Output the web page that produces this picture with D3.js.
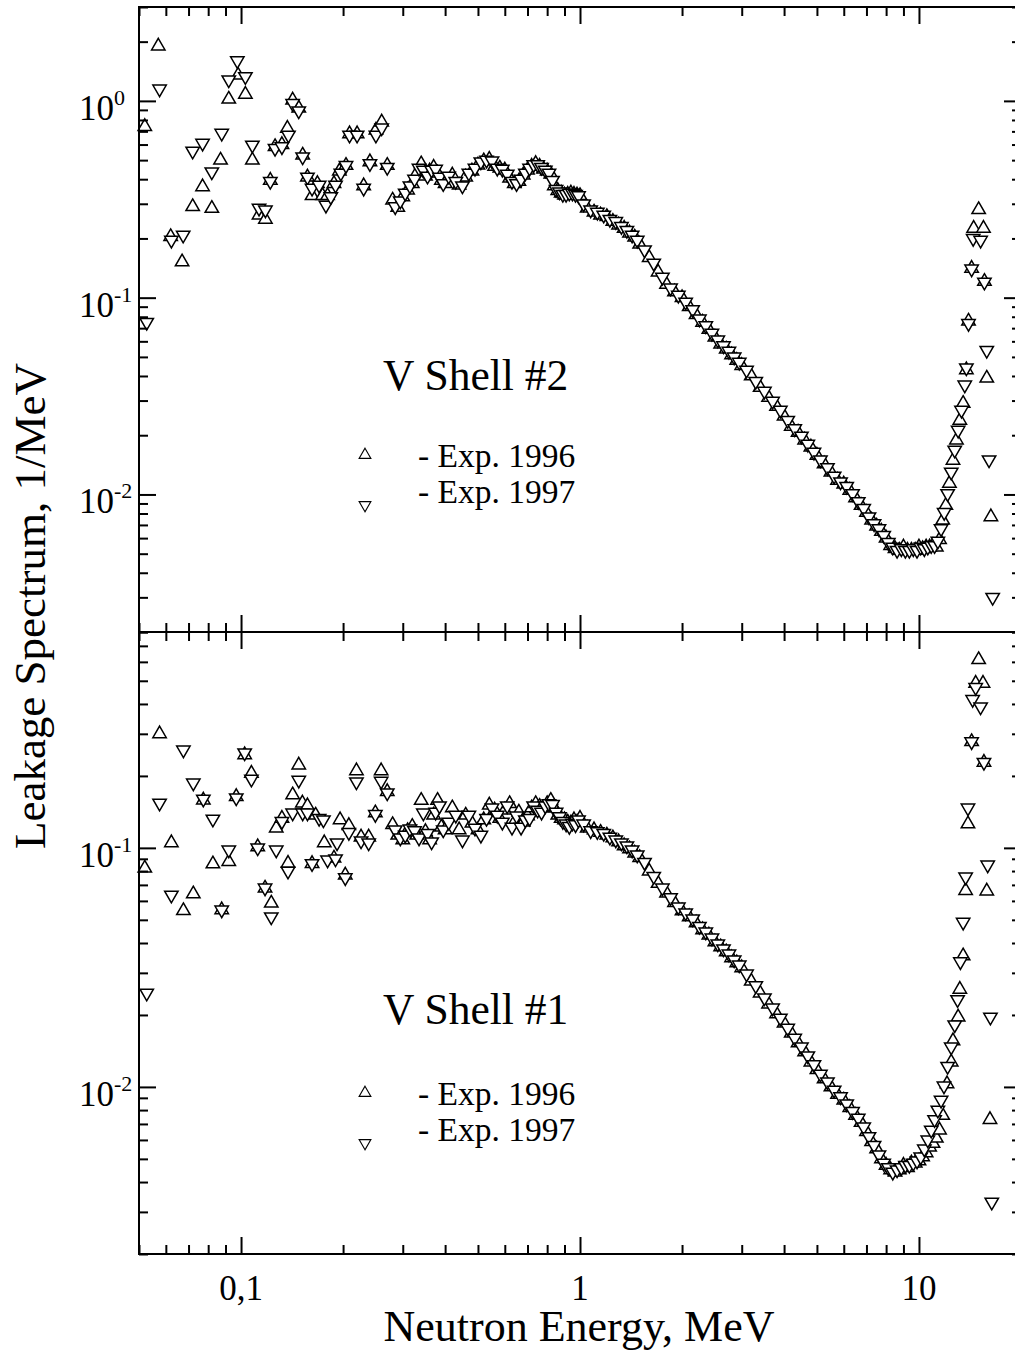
<!DOCTYPE html>
<html>
<head>
<meta charset="utf-8">
<title>V shell leakage spectra</title>
<style type="text/css">
    body { margin: 0; background: #fff; }
    svg text { font-family: "Liberation Serif", "Times New Roman", serif; fill: #000; }
    .frame { fill: none; stroke: #000; stroke-width: 2; }
    .tick line { stroke: #000; stroke-width: 2; }
    .mark { fill: #fff; stroke: #000; stroke-width: 1.5; }
    .legmark { fill: #fff; stroke: #000; stroke-width: 1.1; }
</style>
</head>
<body>
<script src="https://d3js.org/d3.v7.min.js" type="text/javascript"></script>
<script type="text/javascript">

// [energy MeV, leakage 1/MeV]
var shell2_1996 = [
    [0.052,0.74],[0.057,1.9],[0.062,0.204],[0.067,0.152],[0.072,0.29],[0.077,0.366],[0.082,0.284],[0.087,0.50],
    [0.092,1.02],[0.098,1.35],[0.103,1.08],[0.108,0.50],[0.113,0.263],[0.118,0.25],[0.122,0.395],[0.126,0.585],
    [0.132,0.60],[0.137,0.725],[0.142,1.01],[0.148,0.92],[0.152,0.53],[0.157,0.41],[0.162,0.33],[0.168,0.38],
    [0.174,0.33],[0.180,0.33],[0.188,0.38],[0.195,0.44],[0.204,0.47],[0.209,0.68],[0.220,0.68],[0.230,0.37],
    [0.240,0.49],[0.250,0.71],[0.260,0.78],[0.270,0.47],
    [0.28,0.313],[0.29,0.288],[0.30,0.325],[0.31,0.352],[0.32,0.38],[0.33,0.43],[0.34,0.478],[0.35,0.415],
    [0.36,0.44],[0.37,0.46],[0.38,0.43],[0.39,0.395],[0.40,0.38],[0.42,0.42],[0.44,0.373],[0.46,0.41],
    [0.48,0.44],[0.50,0.472],[0.52,0.495],[0.54,0.505],[0.56,0.465],[0.58,0.455],[0.60,0.445],[0.62,0.405],
    [0.64,0.38],[0.66,0.39],[0.68,0.42],[0.70,0.445],[0.72,0.465],[0.74,0.48],[0.76,0.465],[0.78,0.45],
    [0.80,0.44],[0.82,0.425],[0.84,0.37],[0.86,0.35],[0.88,0.34],[0.90,0.332],[0.92,0.335],[0.94,0.34],
    [0.96,0.335],[0.98,0.332],[1.00,0.33],[1.05,0.285],[1.10,0.272],[1.15,0.263],[1.20,0.258],[1.25,0.244],
    [1.30,0.234],[1.35,0.225],[1.40,0.213],[1.45,0.203],[1.50,0.187],[1.6,0.16],[1.7,0.135],[1.8,0.117],
    [1.9,0.107],[2.0,0.1],[2.1,0.09],[2.2,0.082],[2.3,0.075],[2.4,0.069],[2.5,0.063],[2.6,0.058],
    [2.7,0.0547],[2.8,0.0512],[2.9,0.048],[3.0,0.0452],[3.2,0.04],[3.4,0.035],[3.6,0.0311],[3.8,0.028],
    [4.0,0.025],[4.2,0.0222],[4.4,0.0207],[4.6,0.0189],[4.8,0.0174],[5.0,0.0158],[5.25,0.0143],[5.5,0.013],
    [5.75,0.0118],[6.0,0.0113],[6.25,0.0105],[6.5,0.0096],[6.75,0.0088],[7.0,0.0081],[7.25,0.0074],[7.5,0.0069],
    [7.75,0.0065],[8.0,0.006],[8.25,0.0055],[8.5,0.0053],[8.75,0.0052],[9.0,0.0054],[9.25,0.0052],[9.5,0.0052],
    [9.75,0.0052],[10.0,0.0054],[10.25,0.0053],[10.5,0.0054],[10.75,0.0054],[11.0,0.0055],[11.25,0.0054],[11.5,0.0059],
    [11.75,0.0074],[12.0,0.0088],[12.3,0.0114],[12.6,0.0149],[12.9,0.0189],[13.2,0.0238],[13.5,0.029],[13.8,0.043],
    [14.0,0.076],[14.3,0.141],[14.5,0.225],[15.0,0.28],[15.5,0.225],[15.6,0.121],[15.85,0.039],[16.3,0.0077]
];

var shell2_1997 = [
    [0.0527,0.075],[0.0575,1.15],[0.0623,0.196],[0.0675,0.208],[0.072,0.556],[0.077,0.61],[0.082,0.436],[0.0877,0.685],
    [0.092,1.28],[0.0975,1.6],[0.103,1.33],[0.108,0.596],[0.113,0.285],[0.118,0.279],[0.122,0.39],[0.126,0.574],
    [0.132,0.585],[0.138,0.67],[0.142,0.97],[0.148,0.89],[0.152,0.52],[0.157,0.41],[0.162,0.36],[0.17,0.373],
    [0.178,0.295],[0.184,0.326],[0.19,0.373],[0.197,0.43],[0.204,0.47],[0.209,0.67],[0.22,0.67],[0.23,0.36],
    [0.24,0.48],[0.25,0.67],[0.26,0.73],[0.27,0.46],
    [0.285,0.29],[0.295,0.31],[0.305,0.34],[0.315,0.37],[0.325,0.40],[0.335,0.455],[0.345,0.445],[0.355,0.415],
    [0.365,0.445],[0.375,0.45],[0.385,0.41],[0.395,0.38],[0.41,0.415],[0.43,0.39],[0.45,0.37],[0.47,0.43],
    [0.49,0.455],[0.51,0.49],[0.53,0.50],[0.55,0.495],[0.57,0.455],[0.59,0.45],[0.61,0.425],[0.63,0.39],
    [0.65,0.38],[0.67,0.40],[0.69,0.43],[0.71,0.455],[0.73,0.475],[0.75,0.475],[0.77,0.46],[0.79,0.445],
    [0.81,0.43],[0.83,0.395],[0.85,0.355],[0.87,0.345],[0.89,0.335],[0.91,0.335],[0.93,0.34],[0.95,0.34],
    [0.97,0.335],[0.99,0.33],[1.025,0.30],[1.075,0.279],[1.125,0.272],[1.175,0.263],[1.225,0.25],[1.275,0.244],
    [1.325,0.23],[1.375,0.22],[1.425,0.208],[1.475,0.196],[1.55,0.175],[1.65,0.15],[1.75,0.127],[1.85,0.112],
    [1.95,0.103],[2.05,0.095],[2.15,0.087],[2.25,0.078],[2.35,0.072],[2.45,0.066],[2.55,0.061],[2.65,0.057],
    [2.75,0.0535],[2.85,0.05],[2.95,0.047],[3.1,0.0428],[3.3,0.0376],[3.5,0.0335],[3.7,0.0298],[3.9,0.0268],
    [4.1,0.0238],[4.3,0.0216],[4.5,0.0198],[4.7,0.018],[4.9,0.0164],[5.12,0.015],[5.37,0.0137],[5.62,0.0124],
    [5.87,0.0116],[6.12,0.011],[6.37,0.0101],[6.62,0.0092],[6.87,0.0085],[7.12,0.0077],[7.37,0.0071],[7.62,0.0067],
    [7.87,0.0062],[8.12,0.0057],[8.37,0.0054],[8.62,0.0052],[8.87,0.0053],[9.12,0.0052],[9.37,0.0052],[9.62,0.0053],
    [9.87,0.0052],[10.12,0.0054],[10.37,0.0053],[10.62,0.0054],[10.87,0.0055],[11.12,0.0055],[11.37,0.0058],[11.62,0.0067],
    [11.87,0.0081],[12.15,0.0101],[12.45,0.013],[12.75,0.0168],[13.05,0.0212],[13.35,0.0268],[13.65,0.036],[13.8,0.044],
    [14.0,0.074],[14.3,0.14],[14.45,0.2],[15.2,0.196],[15.6,0.12],[15.85,0.054],[16.1,0.015],[16.5,0.003]
];

var shell1_1996 = [
    [0.052,0.0822],[0.0575,0.30],[0.0623,0.105],[0.0676,0.0546],[0.0723,0.0642],[0.0774,0.1585],[0.0826,0.0857],[0.0877,0.0551],
    [0.092,0.0876],[0.0968,0.164],[0.1025,0.245],[0.1073,0.205],[0.112,0.101],[0.1177,0.0678],[0.1228,0.0587],[0.127,0.121],
    [0.132,0.133],[0.1376,0.0862],[0.142,0.1665],[0.148,0.222],[0.1517,0.154],[0.157,0.15],[0.162,0.086],[0.166,0.137],
    [0.176,0.105],[0.188,0.0906],[0.196,0.131],[0.203,0.077],[0.208,0.124],[0.219,0.21],[0.226,0.111],[0.238,0.111],
    [0.249,0.14],[0.259,0.21],[0.27,0.172],
    [0.28,0.125],[0.29,0.113],[0.30,0.108],[0.31,0.118],[0.32,0.123],[0.33,0.113],[0.34,0.158],[0.35,0.117],
    [0.36,0.108],[0.37,0.137],[0.38,0.158],[0.39,0.122],[0.40,0.119],[0.42,0.147],[0.44,0.119],[0.46,0.137],
    [0.48,0.127],[0.50,0.119],[0.52,0.131],[0.54,0.151],[0.56,0.144],[0.58,0.133],[0.60,0.144],[0.62,0.153],
    [0.64,0.128],[0.66,0.141],[0.68,0.128],[0.70,0.136],[0.72,0.147],[0.74,0.153],[0.76,0.149],[0.78,0.147],
    [0.80,0.153],[0.82,0.158],[0.84,0.147],[0.86,0.137],[0.88,0.133],[0.90,0.131],[0.92,0.128],[0.94,0.127],
    [0.96,0.131],[0.98,0.128],[1.00,0.133],[1.05,0.121],[1.10,0.119],[1.15,0.116],[1.20,0.113],[1.25,0.11],
    [1.30,0.106],[1.35,0.102],[1.40,0.099],[1.45,0.095],[1.50,0.091],[1.6,0.08],[1.7,0.071],[1.8,0.0647],
    [1.9,0.059],[2.0,0.0545],[2.1,0.0515],[2.2,0.0485],[2.3,0.0454],[2.4,0.0432],[2.5,0.0404],[2.6,0.0385],
    [2.7,0.0367],[2.8,0.0347],[2.9,0.033],[3.0,0.0315],[3.2,0.0277],[3.4,0.0247],[3.6,0.0222],[3.8,0.0202],
    [4.0,0.0185],[4.2,0.0168],[4.4,0.0153],[4.6,0.014],[4.8,0.0127],[5.0,0.0118],[5.25,0.0108],[5.5,0.01],
    [5.75,0.0093],[6.0,0.0088],[6.25,0.0082],[6.5,0.0076],[6.75,0.0071],[7.0,0.0065],[7.25,0.0059],[7.5,0.0055],
    [7.75,0.005],[8.0,0.0047],[8.25,0.0045],[8.5,0.0044],[8.75,0.0045],[9.0,0.0047],[9.25,0.0046],[9.5,0.0048],
    [9.75,0.0048],[10.0,0.0049],[10.25,0.0051],[10.5,0.0053],[10.75,0.0056],[11.0,0.0058],[11.25,0.0061],[11.5,0.0066],
    [11.75,0.0076],[12.1,0.0103],[12.45,0.0127],[12.6,0.0156],[13.05,0.0196],[13.2,0.0256],[13.5,0.0353],[13.73,0.0663],
    [13.95,0.126],[14.3,0.278],[14.7,0.488],[15.0,0.613],[15.45,0.488],[15.55,0.228],[15.85,0.066],[16.2,0.0073]
];

var shell1_1997 = [
    [0.0527,0.0247],[0.0575,0.154],[0.0623,0.0635],[0.0676,0.257],[0.0723,0.187],[0.0774,0.16],[0.0826,0.132],[0.0877,0.055],
    [0.092,0.098],[0.0968,0.162],[0.1025,0.25],[0.1073,0.194],[0.112,0.1],[0.1177,0.068],[0.1228,0.0515],[0.127,0.098],
    [0.132,0.129],[0.1376,0.08],[0.142,0.14],[0.148,0.192],[0.152,0.14],[0.157,0.14],[0.162,0.086],[0.17,0.133],
    [0.175,0.131],[0.18,0.089],[0.19,0.09],[0.192,0.105],[0.203,0.075],[0.208,0.116],[0.219,0.189],[0.226,0.107],
    [0.238,0.105],[0.249,0.138],[0.259,0.19],[0.27,0.17],
    [0.285,0.119],[0.295,0.110],[0.305,0.113],[0.315,0.12],[0.325,0.118],[0.335,0.11],[0.345,0.14],[0.355,0.115],
    [0.365,0.106],[0.375,0.141],[0.385,0.15],[0.395,0.119],[0.41,0.128],[0.43,0.137],[0.45,0.108],[0.47,0.137],
    [0.49,0.121],[0.51,0.113],[0.53,0.133],[0.55,0.147],[0.57,0.137],[0.59,0.128],[0.61,0.15],[0.63,0.122],
    [0.65,0.136],[0.67,0.122],[0.69,0.131],[0.71,0.133],[0.73,0.15],[0.75,0.144],[0.77,0.141],[0.79,0.15],
    [0.81,0.153],[0.83,0.152],[0.85,0.141],[0.87,0.135],[0.89,0.129],[0.91,0.126],[0.93,0.123],[0.95,0.127],
    [0.97,0.125],[0.99,0.131],[1.025,0.126],[1.075,0.118],[1.125,0.117],[1.175,0.115],[1.225,0.111],[1.275,0.108],
    [1.325,0.105],[1.375,0.102],[1.425,0.098],[1.475,0.0934],[1.55,0.087],[1.65,0.076],[1.75,0.068],[1.85,0.062],
    [1.95,0.0566],[2.05,0.0535],[2.15,0.0505],[2.25,0.047],[2.35,0.0445],[2.45,0.042],[2.55,0.0397],[2.65,0.0378],
    [2.75,0.036],[2.85,0.034],[2.95,0.0324],[3.1,0.0297],[3.3,0.0265],[3.5,0.0236],[3.7,0.0214],[3.9,0.0194],
    [4.1,0.0176],[4.3,0.016],[4.5,0.0147],[4.7,0.0135],[4.9,0.0124],[5.12,0.0113],[5.37,0.0105],[5.62,0.0097],
    [5.87,0.0091],[6.12,0.0085],[6.37,0.0079],[6.62,0.0074],[6.87,0.0068],[7.12,0.0062],[7.37,0.0057],[7.62,0.0052],
    [7.87,0.0048],[8.12,0.0046],[8.37,0.0044],[8.62,0.0045],[8.87,0.0046],[9.12,0.0047],[9.37,0.0047],[9.62,0.0048],
    [9.87,0.0049],[10.12,0.0051],[10.37,0.0055],[10.62,0.006],[10.87,0.0066],[11.12,0.0073],[11.37,0.008],[11.62,0.0088],
    [11.85,0.0101],[12.15,0.0122],[12.45,0.0147],[12.75,0.0182],[13.0,0.0232],[13.25,0.0334],[13.5,0.0489],[13.73,0.0756],
    [13.95,0.147],[14.3,0.278],[14.4,0.418],[14.7,0.469],[15.2,0.389],[15.55,0.228],[15.95,0.0848],[16.25,0.0196],[16.4,0.0033]
];

var xTickLabels = [[0.1, "0,1"], [1, "1"], [10, "10"]];
var topDecades = [[1, "0"], [0.1, "-1"], [0.01, "-2"]];
var botDecades = [[0.1, "-1"], [0.01, "-2"]];
var legendNames = ["- Exp. 1996", "- Exp. 1997"];

var L = 139, R = 1021, T = 7, M = 632, B = 1254;

var svg = d3.select('body').append('svg')
    .attr('width', 1015)
    .attr('height', 1354);

var x = d3.scaleLog().domain([0.05, 20]).range([L, R]);

var panels = [
    { y: d3.scaleLog().domain([0.002, 3]).range([M, T]), top: T, bottom: M,
      data: [shell2_1996, shell2_1997], decades: topDecades, name: "V Shell #2",
      nameY: 390, legMark: [455, 505], legText: [467, 503] },
    { y: d3.scaleLog().domain([0.002, 0.8]).range([B, M]), top: M, bottom: B,
      data: [shell1_1996, shell1_1997], decades: botDecades, name: "V Shell #1",
      nameY: 1024, legMark: [1093, 1143], legText: [1105, 1141] }
];

function logTicks(s) {
    var d = s.domain(), lo = Math.min(d[0], d[1]), hi = Math.max(d[0], d[1]), out = [];
    for (var p = -3; p <= 2; p++) {
        for (var k = 1; k <= 9; k++) {
            var v = +(k * Math.pow(10, p)).toPrecision(2);
            if (v >= lo * 0.9999 && v <= hi * 1.0001) out.push(v);
        }
    }
    return out;
}
function isMajor(v) {
    var l = Math.log10(v);
    return Math.abs(l - Math.round(l)) < 1e-9;
}
// ticks point inward: negative tick size
function drawTicks(axisFn, s, transform) {
    var all = logTicks(s);
    [[all.filter(function (v) { return !isMajor(v); }), -9],
     [all.filter(isMajor), -17]].forEach(function (t) {
        svg.append('g')
            .attr('transform', transform)
            .call(axisFn(s).tickValues(t[0]).tickSize(t[1]).tickSizeOuter(0).tickFormat(''))
            .call(function (g) { g.select('.domain').remove(); });
    });
}

var tri = d3.symbol().type(d3.symbolTriangle).size(78);
var legTri = d3.symbol().type(d3.symbolTriangle).size(60);

panels.forEach(function (p) {
    var g = svg.append('g');
    p.data.forEach(function (series, i) {
        g.selectAll(null)
            .data(series)
            .enter().append('path')
            .attr('class', 'mark')
            .attr('d', tri)
            .attr('transform', function (d) {
                return 'translate(' + x(d[0]) + ',' + p.y(d[1]) + ')' + (i ? ' rotate(180)' : '');
            });
    });

    drawTicks(d3.axisLeft, p.y, 'translate(' + L + ',0)');
    drawTicks(d3.axisRight, p.y, 'translate(' + R + ',0)');
    drawTicks(d3.axisTop, x, 'translate(0,' + p.top + ')');
    drawTicks(d3.axisBottom, x, 'translate(0,' + p.bottom + ')');

    svg.append('rect')
        .attr('class', 'frame')
        .attr('x', L).attr('y', p.top)
        .attr('width', R - L).attr('height', p.bottom - p.top);

    // decade labels 10^n
    p.decades.forEach(function (d) {
        var t = svg.append('text')
            .attr('x', 79)
            .attr('y', p.y(d[0]) + 19)
            .attr('font-size', 35);
        t.append('tspan').text('10');
        t.append('tspan').attr('font-size', 22).attr('dy', -15).text(d[1]);
    });

    svg.append('text')
        .attr('x', 383).attr('y', p.nameY)
        .attr('font-size', 43.5)
        .text(p.name);

    legendNames.forEach(function (name, i) {
        svg.append('path')
            .attr('class', 'legmark')
            .attr('d', legTri)
            .attr('transform', 'translate(365,' + p.legMark[i] + ')' + (i ? ' rotate(180)' : ''));
        svg.append('text')
            .attr('x', 418).attr('y', p.legText[i])
            .attr('font-size', 33.5)
            .text(name);
    });
});

xTickLabels.forEach(function (d) {
    svg.append('text')
        .attr('x', x(d[0])).attr('y', 1300)
        .attr('text-anchor', 'middle')
        .attr('font-size', 35)
        .text(d[1]);
});

svg.append('text')
    .attr('x', 579).attr('y', 1341)
    .attr('text-anchor', 'middle')
    .attr('font-size', 44)
    .text('Neutron Energy, MeV');

svg.append('text')
    .attr('transform', 'translate(45,606) rotate(-90)')
    .attr('text-anchor', 'middle')
    .attr('font-size', 45)
    .text('Leakage Spectrum, 1/MeV');

</script>
</body>
</html>
